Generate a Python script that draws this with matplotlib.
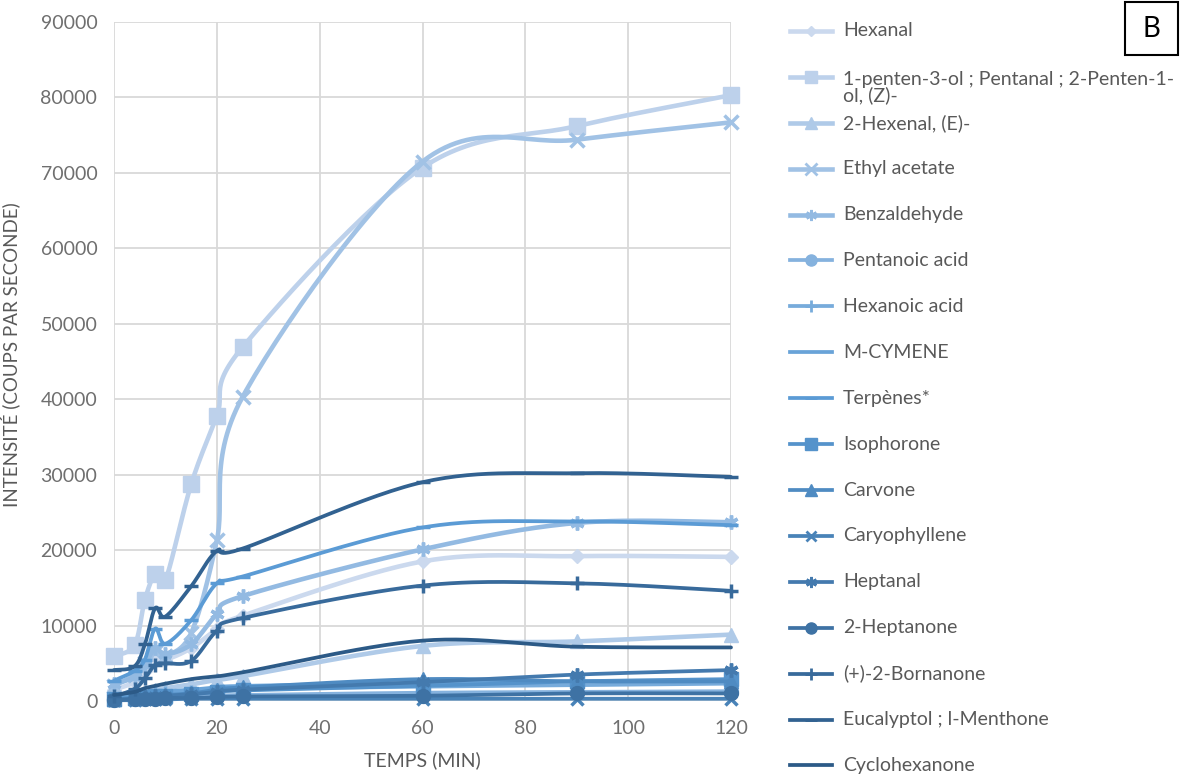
import numpy as np
import matplotlib
matplotlib.use("Agg")
import matplotlib.pyplot as plt
from matplotlib.lines import Line2D
from matplotlib.patches import Rectangle

plt.rcParams['font.family'] = ['Lato', 'DejaVu Sans']

# sampling times (min)
times = [0, 4, 6, 8, 10, 15, 20, 25, 60, 90, 120]

names = ["Hexanal", "1-penten-3-ol ; Pentanal ; 2-Penten-1-\nol, (Z)-",
         "2-Hexenal, (E)-", "Ethyl acetate", "Benzaldehyde", "Pentanoic acid",
         "Hexanoic acid", "M-CYMENE", "Terpènes*", "Isophorone", "Carvone",
         "Caryophyllene", "Heptanal", "2-Heptanone", "(+)-2-Bornanone",
         "Eucalyptol ; l-Menthone", "Cyclohexanone"]

hexanal = [1500, 2500, 4000, 6000, 5500, 7000, 9500, 11300, 18500, 19200, 19100]
pentenol = [6000, 7400, 13400, 16800, 16000, 28700, 37800, 46900, 70700, 76200, 80300]
hexenal = [300, 800, 1200, 1500, 1700, 2200, 2800, 3300, 7300, 7900, 8800]
ethyl_acetate = [2000, 3500, 5000, 6500, 6000, 9000, 21300, 40300, 71500, 74400, 76700]
benzaldehyde = [2200, 3200, 4800, 7000, 6200, 7500, 11500, 13900, 20100, 23600, 23700]
pentanoic = [200, 300, 400, 500, 500, 600, 700, 800, 1100, 1200, 1300]
hexanoic = [400, 600, 800, 1000, 1000, 1200, 1400, 1600, 1900, 2100, 2300]
m_cymene = [600, 800, 1000, 1200, 1300, 1500, 1800, 2000, 2400, 2600, 2700]
terpenes = [2700, 4000, 5500, 9600, 7600, 10700, 15600, 16500, 23000, 23800, 23300]
isophorone = [300, 400, 500, 700, 700, 900, 1200, 1400, 2000, 2600, 2900]
carvone = [200, 400, 500, 700, 800, 1000, 1500, 1800, 2900, 2600, 2600]
caryophyllene = [100, 100, 200, 200, 200, 300, 300, 300, 300, 300, 300]
heptanal = [200, 300, 500, 600, 700, 900, 1200, 1500, 2500, 3500, 4100]
heptanone = [100, 200, 300, 300, 400, 400, 500, 600, 700, 1000, 1000]
bornanone = [600, 1600, 3000, 4800, 5000, 5300, 9300, 11000, 15300, 15600, 14600]
eucalyptol = [4100, 4600, 7500, 12300, 11200, 15200, 19900, 20200, 29000, 30200, 29700]
cyclohexanone = [800, 1200, 1700, 2000, 2300, 2900, 3300, 3800, 8000, 7200, 7100]

series = [hexanal, pentenol, hexenal, ethyl_acetate, benzaldehyde, pentanoic,
          hexanoic, m_cymene, terpenes, isophorone, carvone, caryophyllene,
          heptanal, heptanone, bornanone, eucalyptol, cyclohexanone]

markers = ["D", "s", "^", "x", (6, 2, 0), "o", "+", None, "_", "s", "^", "x",
           (6, 2, 0), "o", "+", "_", None]
msizes = [7, 11, 10, 10, 10, 10, 10, 0, 10, 10, 10, 9, 10, 10, 10, 10, 0]


def make_colors(n):
    light = np.array([0xcb, 0xd9, 0xee]) / 255
    mid = np.array([0x5b, 0x9b, 0xd5]) / 255
    dark = np.array([0x2c, 0x5a, 0x87]) / 255
    out = []
    for i in range(n):
        t = i / (n - 1)
        if t <= 0.5:
            c = light + (mid - light) * (t / 0.5)
        else:
            c = mid + (dark - mid) * ((t - 0.5) / 0.5)
        out.append(tuple(c))
    return out


def smooth(x, y, n=30):
    # Excel-like smoothed line (cubic bezier through the points)
    p = np.column_stack([x, y]).astype(float)
    pts = []
    for i in range(len(p) - 1):
        p0 = p[i - 1] if i > 0 else p[i]
        p1, p2 = p[i], p[i + 1]
        p3 = p[i + 2] if i + 2 < len(p) else p[i + 1]
        c1 = p1 + (p2 - p0) / 6
        c2 = p2 - (p3 - p1) / 6
        t = np.linspace(0, 1, n)[:, None]
        b = ((1 - t) ** 3) * p1 + 3 * ((1 - t) ** 2) * t * c1 + 3 * (1 - t) * t ** 2 * c2 + t ** 3 * p2
        pts.append(b if i == 0 else b[1:])
    pts = np.vstack(pts)
    return pts[:, 0], pts[:, 1]


colors = make_colors(len(series))
grey = "#595959"
tick_grey = "#6f6f6f"

fig = plt.figure(figsize=(11.81, 7.76), dpi=100)
ax = fig.add_axes([114 / 1181, 1 - 701 / 776, (731 - 114) / 1181, (701 - 22) / 776])

for i, (vals, col, mk, ms) in enumerate(zip(series, colors, markers, msizes)):
    lw = 3.3 if i < 5 else 2.7
    sx, sy = smooth(times, vals)
    ax.plot(sx, sy, color=col, lw=lw, solid_capstyle="round", clip_on=False, zorder=3)
    if mk is not None:
        ax.plot(times, vals, ls="none", marker=mk, ms=ms, color=col,
                mec=col, mew=2.5 if mk in ("x", "+", "_") or isinstance(mk, tuple) else 1,
                clip_on=False, zorder=3)

ax.set_xlim(0, 120)
ax.set_ylim(0, 90000)
ax.set_xticks(range(0, 121, 20))
ax.set_yticks(range(0, 90001, 10000))
ax.grid(True, color="#d9d9d9", lw=1.3)
ax.set_axisbelow(True)
for s in ax.spines.values():
    s.set_visible(False)
ax.tick_params(length=0, labelsize=14, colors=tick_grey)
ax.tick_params(axis="y", pad=12)
ax.tick_params(axis="x", pad=14)
ax.set_xlabel("TEMPS (MIN)", fontsize=14, color=grey, labelpad=10)
ax.set_ylabel("INTENSITÉ (COUPS PAR SECONDE)", fontsize=13.5, color=grey,
              family=['Liberation Sans Narrow', 'Lato'])
ax.yaxis.set_label_coords((20 - 114) / 617, 0.51)

# legend drawn by hand to keep Excel spacing
step = 45.9
for i, (name, col, mk, ms) in enumerate(zip(names, colors, markers, msizes)):
    ypx = 31 + i * step
    yf = 1 - ypx / 776
    lw = 3.3 if i < 5 else 2.7
    fig.add_artist(Line2D([790 / 1181, 832 / 1181], [yf, yf], color=col, lw=lw,
                          transform=fig.transFigure))
    if mk is not None:
        fig.add_artist(Line2D([811 / 1181], [yf], marker=mk, ms=ms * 0.8, color=col, mec=col,
                              mew=2 if mk in ("x", "+", "_") or isinstance(mk, tuple) else 1,
                              transform=fig.transFigure))
    nl = name.count("\n")
    fig.text(843 / 1181, 1 - (ypx + nl * 11) / 776, name, fontsize=14, color=grey,
             va="center", ha="left", linespacing=0.9)

fig.add_artist(Rectangle((1125 / 1181, 1 - 55 / 776), 53 / 1181, 53 / 776,
                         transform=fig.transFigure, fill=False, ec="black", lw=1.5))
fig.text(1151.5 / 1181, 1 - 29 / 776, "B", fontsize=20, ha="center", va="center", color="black")

fig.savefig("out.png", dpi=100)
